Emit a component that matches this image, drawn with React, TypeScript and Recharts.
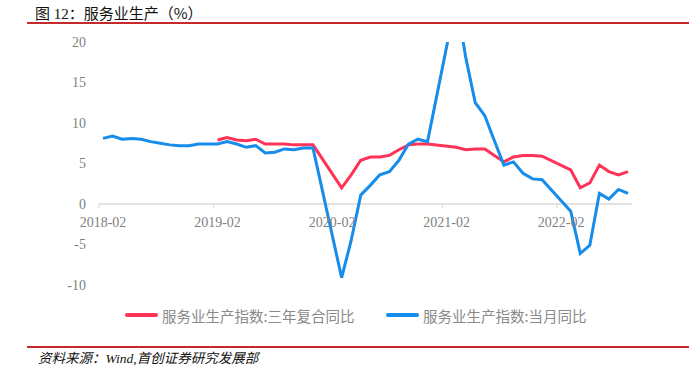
import React from "react";
import { LineChart, Line, XAxis, YAxis, ReferenceLine } from "recharts";

const months = [
  "2018-02", "2018-03", "2018-04", "2018-05", "2018-06", "2018-07", "2018-08", "2018-09", "2018-10", "2018-11", "2018-12",
  "2019-01", "2019-02", "2019-03", "2019-04", "2019-05", "2019-06", "2019-07", "2019-08", "2019-09", "2019-10", "2019-11", "2019-12",
  "2020-01", "2020-02", "2020-03", "2020-04", "2020-05", "2020-06", "2020-07", "2020-08", "2020-09", "2020-10", "2020-11", "2020-12",
  "2021-01", "2021-02", "2021-03", "2021-04", "2021-05", "2021-06", "2021-07", "2021-08", "2021-09", "2021-10", "2021-11", "2021-12",
  "2022-01", "2022-02", "2022-03", "2022-04", "2022-05", "2022-06", "2022-07", "2022-08", "2022-09",
];

// 服务业生产指数:三年复合同比
const threeYearCagr = [
  null, null, null, null, null, null, null, null, null, null, null,
  null, 7.9, 8.2, 7.9, 7.8, 8.0, 7.4, 7.4, 7.4, 7.3, 7.3, 7.3,
  null, null, 2.0, 3.6, 5.4, 5.8, 5.8, 6.0, 6.7, 7.3, 7.4, 7.4,
  null, null, 7.0, 6.7, 6.8, 6.8, 6.0, 5.2, 5.8, 6.0, 6.0, 5.9,
  null, null, 4.2, 2.0, 2.6, 4.8, 4.0, 3.6, 4.0,
];

// 服务业生产指数:当月同比
const monthlyYoy = [
  8.1, 8.4, 8.0, 8.1, 8.0, 7.7, 7.5, 7.3, 7.2, 7.2, 7.4,
  null, 7.4, 7.7, 7.4, 7.0, 7.2, 6.3, 6.4, 6.8, 6.7, 6.9, 6.9,
  null, null, -9.1, -4.5, 1.1, 2.3, 3.6, 4.0, 5.4, 7.4, 8.0, 7.7,
  null, null, 25.3, 18.1, 12.5, 10.9, 7.8, 4.8, 5.2, 3.8, 3.1, 3.0,
  null, null, -0.9, -6.1, -5.1, 1.3, 0.6, 1.8, 1.3,
];

const yTicks = [-10, -5, 0, 5, 10, 15, 20];
const xTicks = ["2018-02", "2019-02", "2020-02", "2021-02", "2022-02"];

const RED = "#FF3358";
const BLUE = "#168CEB";
const GRAY_TEXT = "#7f7f7f";

const TOP = 42;
const PLOT_H = 243;
const Y_MIN = -10;
const Y_MAX = 20;
const ZERO_Y = TOP + (PLOT_H * Y_MAX) / (Y_MAX - Y_MIN);

const data = months.map((m, i) => ({
  month: m,
  cagr: threeYearCagr[i],
  yoy: monthlyYoy[i],
}));

function XTick(props: any) {
  const { x, payload } = props;
  return (
    <g>
      <line x1={x - 4} x2={x - 4} y1={ZERO_Y} y2={ZERO_Y + 4} stroke="#d9d9d9" strokeWidth={1} />
      <text
        x={x}
        y={ZERO_Y + 23}
        textAnchor="middle"
        fill={GRAY_TEXT}
        fontSize={14}
        fontFamily="'Liberation Serif', serif"
      >
        {payload.value}
      </text>
    </g>
  );
}

const legendItems = [
  { name: "服务业生产指数:三年复合同比", color: RED, left: 125 },
  { name: "服务业生产指数:当月同比", color: BLUE, left: 386 },
];

export default function App() {
  return (
    <div
      style={{
        position: "absolute",
        left: 0,
        top: 0,
        width: 699,
        height: 377,
        background: "#fff",
        overflow: "hidden",
      }}
    >
      <div
        style={{
          position: "absolute",
          left: 35,
          top: 3,
          fontSize: 15,
          lineHeight: "20px",
          color: "#111",
          fontFamily: "'Liberation Serif', 'Noto Sans CJK SC', sans-serif",
          whiteSpace: "nowrap",
        }}
      >
        <span style={{ fontFamily: "'Noto Sans CJK SC'" }}>图</span> 12
        <span style={{ fontFamily: "'Noto Sans CJK SC'" }}>：服务业生产（%）</span>
      </div>
      <div style={{ position: "absolute", left: 27, top: 22, width: 662, height: 2, background: "#c42a2a" }} />

      <div style={{ position: "absolute", left: 0, top: 0 }}>
        <LineChart width={699} height={300} data={data} margin={{ top: TOP, right: 67, bottom: 0, left: 0 }}>
          <XAxis
            dataKey="month"
            ticks={xTicks}
            interval={0}
            height={15}
            axisLine={false}
            tickLine={false}
            padding={{ left: 4, right: 4 }}
            tick={<XTick />}
          />
          <YAxis
            width={99}
            domain={[Y_MIN, Y_MAX]}
            ticks={yTicks}
            interval={0}
            allowDataOverflow
            axisLine={false}
            tickLine={false}
            tickSize={0}
            tickMargin={13}
            tick={{ fill: GRAY_TEXT, fontSize: 14, fontFamily: "'Liberation Serif', serif" }}
          />
          <ReferenceLine y={0} stroke="#d9d9d9" strokeWidth={1.5} />
          <Line
            type="linear"
            dataKey="cagr"
            stroke={RED}
            strokeWidth={3}
            dot={false}
            connectNulls
            isAnimationActive={false}
          />
          <Line
            type="linear"
            dataKey="yoy"
            stroke={BLUE}
            strokeWidth={3}
            dot={false}
            connectNulls
            isAnimationActive={false}
          />
        </LineChart>
      </div>

      {legendItems.map((item) => (
        <div
          key={item.name}
          style={{
            position: "absolute",
            left: item.left,
            top: 305,
            height: 20,
            display: "flex",
            alignItems: "center",
            whiteSpace: "nowrap",
          }}
        >
          <div style={{ width: 33, height: 4, borderRadius: 2, background: item.color, marginRight: 4 }} />
          <span
            style={{
              fontSize: 14.5,
              color: "#8a8a8a",
              fontFamily: "'Noto Sans CJK SC', sans-serif",
            }}
          >
            {item.name}
          </span>
        </div>
      ))}

      <div style={{ position: "absolute", left: 27, top: 346, width: 662, height: 2, background: "#c42a2a" }} />
      <div
        style={{
          position: "absolute",
          left: 38,
          top: 348,
          fontSize: 13.5,
          lineHeight: "18px",
          fontStyle: "italic",
          color: "#111",
          fontFamily: "'Liberation Serif', 'Noto Sans CJK SC', serif",
          whiteSpace: "nowrap",
        }}
      >
        <span style={{ fontFamily: "'Noto Sans CJK SC'" }}>资料来源：</span>Wind,
        <span style={{ fontFamily: "'Noto Sans CJK SC'" }}>首创证券研究发展部</span>
      </div>
    </div>
  );
}
